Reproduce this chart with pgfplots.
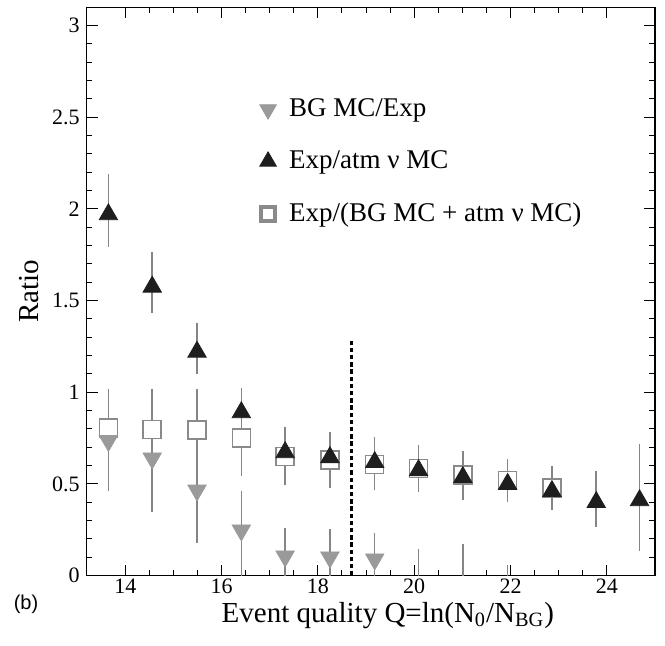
\documentclass[border=0pt]{standalone}
\usepackage{pgfplots}
\usepackage{pgfplotstable}
\pgfplotsset{compat=1.18}
\usepackage{fontspec}
\setmainfont{Liberation Serif}
\newfontfamily\panelfont{Liberation Sans}

\definecolor{bgtri}{HTML}{9A9A9A}
\definecolor{errgray}{HTML}{858585}
\definecolor{sqgray}{HTML}{8A8A8A}
\definecolor{darktri}{HTML}{1E1E1E}

% Exp / atmospheric nu MC
\pgfplotstableread{
x      y      ep     em
13.65  1.970  0.220  0.180
14.56  1.575  0.190  0.145
15.49  1.220  0.160  0.120
16.41  0.890  0.134  0.120
17.32  0.672  0.140  0.177
18.25  0.645  0.139  0.167
19.18  0.618  0.140  0.154
20.09  0.574  0.139  0.120
21.01  0.536  0.146  0.123
21.94  0.499  0.138  0.099
22.86  0.460  0.140  0.100
23.78  0.400  0.173  0.136
24.68  0.410  0.310  0.274
}\atmtable

% Exp / (BG MC + atm nu MC)
\pgfplotstableread{
x      y      ep     em
13.65  0.806  0.210  0.210
14.56  0.798  0.220  0.200
15.49  0.795  0.220  0.200
16.41  0.750  0.200  0.205
17.32  0.650  0.120  0.155
18.25  0.630  0.120  0.150
19.18  0.607  0.120  0.143
20.09  0.585  0.120  0.130
21.01  0.549  0.120  0.136
21.94  0.518  0.110  0.118
22.86  0.478  0.100  0.120
}\sumtable

% BG MC / Exp
\pgfplotstableread{
x      y      ep     em
13.65  0.735  0.280  0.275
14.56  0.640  0.377  0.295
15.49  0.465  0.300  0.287
16.41  0.247  0.213  0.247
17.32  0.105  0.155  0.105
18.25  0.100  0.155  0.100
19.18  0.089  0.144  0.089
}\bgtable

% BG MC / Exp bins with zero entries (upper errors only)
\pgfplotstableread{
x      y      ep     em
20.09  0.000  0.146  0.000
21.01  0.000  0.173  0.000
21.94  0.000  0.055  0.000
}\bgzerotable

\begin{document}
\begin{tikzpicture}
\begin{axis}[
  name=main,
  width=284pt, height=284pt, scale only axis,
  xmin=13.2, xmax=25, ymin=0, ymax=3.1,
  xtick={14,16,...,24}, ytick={0,0.5,...,3},
  minor x tick num=3, minor y tick num=4,
  tick align=inside,
  major tick length=5.5pt, minor tick length=2.75pt,
  tick style={black, line width=0.5pt},
  axis line style={line width=0.75pt},
  /pgf/number format/assume math mode=true,
  ticklabel style={font=\fontsize{11}{13}\selectfont},
  xticklabel style={yshift=2pt},
  yticklabel style={/pgf/number format/fixed},
  xlabel={Event quality Q=ln(N\textsubscript{0}/N\textsubscript{BG})},
  ylabel={Ratio},
  label style={font=\fontsize{14.5}{17}\selectfont},
  xlabel style={at={(axis description cs:0.5,0)}, anchor=base,
    yshift=-23.5pt, xshift=8.5pt},
  legend style={draw=none, fill=none, at={(axis cs:16.66,2.645)}, anchor=north west,
    font=\fontsize{13.5}{16}\selectfont, row sep=11.5pt},
  legend cell align=left,
  legend image code/.code={%
    \path[draw=none, fill=none] (0cm,0cm) -- (0.3cm,0cm);
    \draw[#1] plot coordinates {(0cm,0cm)};},
]
% error bars first, so that every marker sits on top of them
\pgfplotsset{errstyle/.style={draw=none, mark=none, forget plot,
  error bars/.cd, y dir=both, y explicit, error mark=none,
  error bar style={errgray, line width=0.75pt}}}
\addplot[errstyle] table[x=x, y=y, y error plus=ep, y error minus=em] {\sumtable};
\addplot[errstyle] table[x=x, y=y, y error plus=ep, y error minus=em] {\atmtable};
\addplot[errstyle] table[x=x, y=y, y error plus=ep, y error minus=em] {\bgtable};
\addplot[errstyle] table[x=x, y=y, y error plus=ep, y error minus=em] {\bgzerotable};

% quality cut
\addplot[forget plot, black, line width=1.5pt, dash pattern=on 2.2pt off 1.4pt]
  coordinates {(18.69,0) (18.69,1.285)};

% markers
\addplot[forget plot, only marks, mark=square*, mark size=4.5pt,
  mark options={draw=sqgray, fill=white, line width=0.75pt}] table[x=x, y=y] {\sumtable};
\addplot[forget plot, only marks, mark=triangle*, mark size=5.3pt,
  mark options={draw=bgtri, fill=bgtri, rotate=180}] table[x=x, y=y] {\bgtable};
\addplot[forget plot, only marks, mark=triangle*, mark size=5.3pt,
  mark options={draw=darktri, fill=darktri}] table[x=x, y=y] {\atmtable};

\addlegendimage{only marks, mark=triangle*, mark size=4.8pt, mark options={draw=bgtri, fill=bgtri, rotate=180}}
\addlegendentry{BG MC/Exp}
\addlegendimage{only marks, mark=triangle*, mark size=4.8pt, mark options={draw=darktri, fill=darktri}}
\addlegendentry{Exp/atm ν MC}
\addlegendimage{only marks, mark=square*, mark size=3.6pt, mark options={draw=sqgray, fill=white, line width=2pt}}
\addlegendentry{Exp/(BG MC + atm ν MC)}
\end{axis}
\node[font=\panelfont\fontsize{10}{12}\selectfont] at ([shift={(-30.35pt,-14.5pt)}]main.south west) {(b)};
\path ([shift={(-43.35pt,-35pt)}]main.south west) rectangle ([shift={(5pt,3.65pt)}]main.north east);
\end{tikzpicture}
\end{document}
